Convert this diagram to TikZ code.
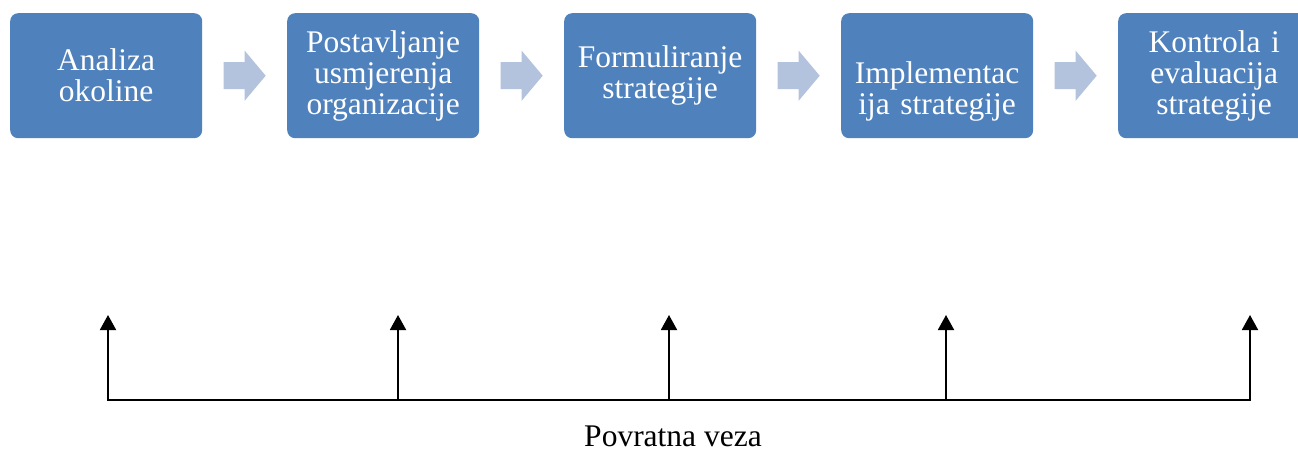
\documentclass[tikz,border=0pt]{standalone}
\usepackage{fontspec}
\setmainfont{Liberation Serif}
\usepackage{tikz}
\usetikzlibrary{matrix,arrows.meta,calc}
\definecolor{boxblue}{HTML}{4F81BD}
\definecolor{arrowblue}{HTML}{B3C2DD}
\tikzset{
	stepbox/.style={fill=boxblue, text=white, rounded corners=8pt, minimum width=192pt, minimum height=125pt,
		text width=180pt, align=center, inner sep=6pt, outer sep=0pt, anchor=center,
		font=\fontsize{31.5}{31}\selectfont},
	blockarrow/.pic={\fill[arrowblue] (-21,-13.5) -- (0,-13.5) -- (0,-25) -- (21,0) -- (0,25) -- (0,13.5) -- (-21,13.5) -- cycle;},
	feedback/.style={line width=1.9pt},
	feedtip/.style={-{Triangle[width=16pt,length=15pt]}}
}

\begin{document}
\begin{tikzpicture}[x=1pt,y=1pt]
			\useasboundingbox (0,0) rectangle (1298,-451);
			\matrix (b) [matrix of nodes, nodes={stepbox}, column sep=85pt, inner sep=0pt, anchor=north west] at (10,-13)
			{
				{Analiza\\okoline} & {Postavljanje\\usmjerenja\\organizacije} & {Formuliranje\\strategije} & {\strut\\Implementac\\ija strategije} & {Kontrola i\\evaluacija\\strategije} \\};
			\foreach \i/\j in {1/2,2/3,3/4,4/5}
				\pic at ($(b-1-\i.east)!.5!(b-1-\j.west)$) {blockarrow};
			\coordinate (f1) at (108,-400);
			\coordinate (f2) at (398,-400);
			\coordinate (f3) at (669,-400);
			\coordinate (f4) at (946,-400);
			\coordinate (f5) at (1250,-400);
			\foreach \i in {1,...,5}
				\coordinate (t\i) at ($(f\i)+(0,85)$);
			\draw[feedback, {Triangle[width=16pt,length=15pt]}-{Triangle[width=16pt,length=15pt]}] (t1) -- (f1) -- (f5) -- (t5);
			\foreach \i in {2,3,4}
				\draw[feedback, feedtip] (f\i) -- (t\i);
			\node[font=\fontsize{31.5}{31}\selectfont, anchor=base, inner sep=0pt] (fb) at (673,-446) {Povratna veza};
		\end{tikzpicture}
\end{document}
